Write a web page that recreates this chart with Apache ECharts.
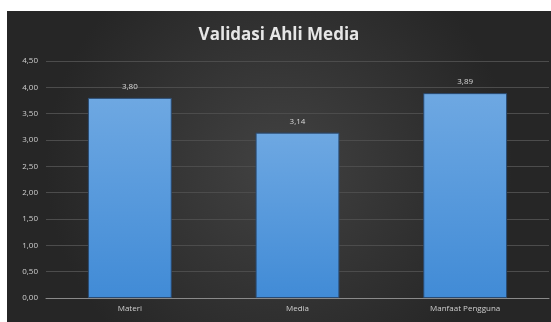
<!DOCTYPE html>
<html><head><meta charset="utf-8">
<script src="https://cdn.jsdelivr.net/npm/echarts@6/dist/echarts.min.js"></script>
<style>
html,body{margin:0;padding:0;background:#fff;width:551px;height:322px;overflow:hidden;}
#c{position:absolute;left:7px;top:11px;width:544px;height:311px;}
</style></head><body>
<div id="c"></div>
<script>
const titleText = "Validasi Ahli Media";
const categories = ["Materi", "Media", "Manfaat Pengguna"];
const values = [3.80, 3.14, 3.89];
const yTicks = {min: 0, max: 4.5, interval: 0.5};

const chart = echarts.init(document.getElementById('c'));
const fmt = v => v.toFixed(2).replace('.', ',');
chart.setOption({
  animation: false,
  backgroundColor: {
    type: 'radial', x: 0.5, y: 0.5, r: 0.75,
    colorStops: [{offset: 0, color: '#424242'}, {offset: 1, color: '#262626'}]
  },
  title: {
    text: titleText, left: 'center', top: 11,
    textStyle: {color: '#e6e6e6', fontSize: 17, fontWeight: 'bold', fontFamily: 'Open Sans'}
  },
  grid: {left: 39, right: 2, top: 50, bottom: 24, containLabel: false},
  xAxis: {
    type: 'category', data: categories,
    axisLine: {lineStyle: {color: '#8a8a8a', width: 1}},
    axisTick: {show: false},
    axisLabel: {color: '#cfcfcf', fontSize: 8, margin: 7, fontFamily: 'Open Sans'}
  },
  yAxis: {
    type: 'value', min: yTicks.min, max: yTicks.max, interval: yTicks.interval,
    axisLine: {show: false}, axisTick: {show: false},
    splitLine: {lineStyle: {color: '#4c4c4c', width: 1}},
    axisLabel: {color: '#cfcfcf', fontSize: 8, margin: 8, formatter: v => fmt(v), fontFamily: 'Open Sans'}
  },
  series: [{
    type: 'bar', data: values, barWidth: '50%',
    itemStyle: {
      color: {type: 'linear', x: 0, y: 0, x2: 0, y2: 1,
        colorStops: [{offset: 0, color: '#6ea8e2'}, {offset: 1, color: '#418bd6'}]},
      borderColor: '#2a4a70', borderWidth: 1
    },
    label: {show: true, position: 'top', distance: 7, color: '#d8d8d8', fontSize: 8,
      formatter: p => fmt(p.value), fontFamily: 'Open Sans'}
  }]
});
</script>
</body></html>
